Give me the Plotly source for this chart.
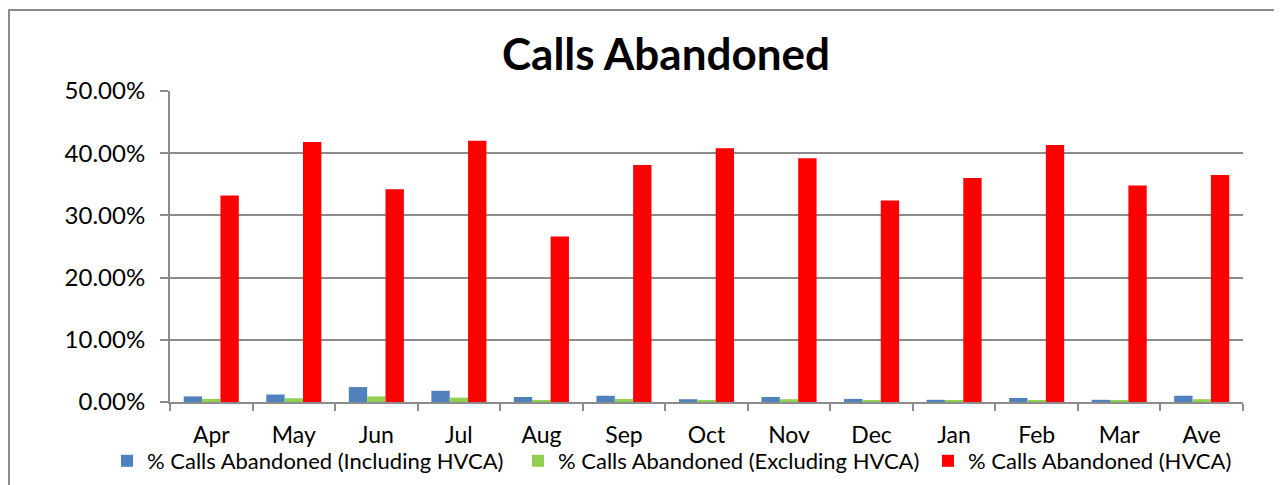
import plotly.graph_objects as go

months = ["Apr", "May", "Jun", "Jul", "Aug", "Sep", "Oct", "Nov", "Dec", "Jan", "Feb", "Mar", "Ave"]
incl_hvca = [0.009, 0.012, 0.024, 0.018, 0.008, 0.010, 0.0045, 0.008, 0.005, 0.0035, 0.0065, 0.0035, 0.010]
excl_hvca = [0.005, 0.006, 0.009, 0.007, 0.003, 0.005, 0.002, 0.0045, 0.002, 0.002, 0.002, 0.002, 0.0045]
hvca = [0.332, 0.418, 0.342, 0.420, 0.266, 0.381, 0.408, 0.392, 0.324, 0.360, 0.413, 0.348, 0.365]

names = ["% Calls Abandoned (Including HVCA)", "% Calls Abandoned (Excluding HVCA)", "% Calls Abandoned (HVCA)"]
colors = ["#4F81BD", "#92D050", "#FF0000"]
legend_ids = ["legend", "legend2", "legend3"]

# page body has an 8px margin: work in screen pixels, convert to figure
OFF = 8
W, H = 1282 - OFF, 485 - OFF
L, R, T, B = 170 - OFF, 39, 91 - OFF, 83
pw, ph = W - L - R, H - T - B

def px_x(p):
    return (p - OFF - L) / pw

def px_y(p):
    return (H - B - (p - OFF)) / ph

fig = go.Figure()
for vals, nm, c, lg in zip([incl_hvca, excl_hvca, hvca], names, colors, legend_ids):
    fig.add_trace(go.Bar(x=months, y=vals, name=nm, legend=lg,
                         marker=dict(color=c, line=dict(width=0))))

legend_common = dict(orientation="h", yanchor="middle", xanchor="left",
                     font=dict(size=22, family="Lato, Open Sans, sans-serif", color="black"),
                     itemwidth=30, bgcolor="rgba(0,0,0,0)", borderwidth=0)
marker_x = [125, 536, 946]

fig.update_layout(
    width=W, height=H,
    margin=dict(l=L, r=R, t=T, b=B, autoexpand=False),
    paper_bgcolor="white", plot_bgcolor="white",
    barmode="group", bargap=0.333, bargroupgap=0,
    font=dict(family="Lato, Open Sans, sans-serif", color="black"),
    title=dict(text="<b>Calls Abandoned</b>", x=(666 - OFF) / W, xanchor="center",
               y=1 - (55 - OFF) / H, yanchor="middle", yref="container", xref="container",
               font=dict(size=44, family="Lato, Open Sans, sans-serif", color="black")),
    legend=dict(x=px_x(marker_x[0] - 18), y=px_y(461), **legend_common),
    legend2=dict(x=px_x(marker_x[1] - 18), y=px_y(461), **legend_common),
    legend3=dict(x=px_x(marker_x[2] - 18), y=px_y(461), **legend_common),
    showlegend=True,
)
fig.update_xaxes(showline=True, linecolor="#8c8c8c", linewidth=2, ticks="outside", tickson="boundaries",
                 ticklen=7, tickcolor="#8c8c8c", tickwidth=2, tickfont=dict(size=23),
                 ticklabelstandoff=11, showgrid=False)
fig.update_yaxes(range=[0, 0.5], dtick=0.1, tickformat=".2%", showline=True, linecolor="#8c8c8c",
                 linewidth=2, ticks="outside", ticklen=8, tickcolor="#8c8c8c", tickwidth=1.5,
                 showgrid=True, gridcolor="#8c8c8c", gridwidth=1.5, tickfont=dict(size=24),
                 ticklabelstandoff=10, zeroline=False)

fig.add_shape(type="rect", xref="paper", yref="paper", x0=px_x(9), x1=px_x(1300), y0=px_y(500), y1=px_y(10),
              line=dict(color="#8c8c8c", width=2), fillcolor="rgba(0,0,0,0)", layer="below")

fig.write_html("out.html")
